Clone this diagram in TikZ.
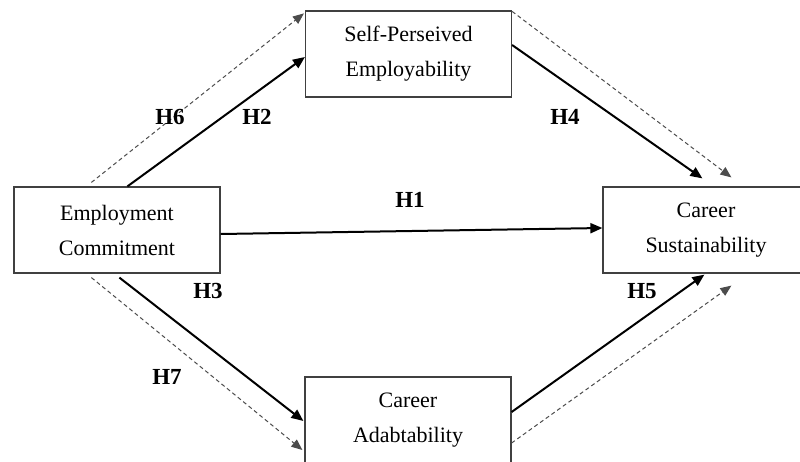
\documentclass[tikz,border=0pt]{standalone}
\usepackage{fontspec}
\setmainfont{Liberation Serif}
\usetikzlibrary{arrows.meta,calc}
\tikzset{
  box/.style={draw=black!75, line width=1.2pt, fill=white, inner sep=0pt,
    minimum width=206pt, minimum height=86pt, align=center,
    font=\fontsize{22}{35}\selectfont},
  solidarrow/.style={draw=black, line width=2pt, -{Triangle[length=12pt,width=10pt]}},
  dasharrow/.style={draw=black!70, line width=1pt, dash pattern=on 4pt off 3pt,
    -{Triangle[length=11pt,width=9pt]}},
  hlabel/.style={font=\fontsize{23}{23}\bfseries\selectfont, inner sep=0pt}
}
\begin{document}
\begin{tikzpicture}[x=1pt,y=-1pt]
\useasboundingbox (0,0) rectangle (800,461);
\clip (0,0) rectangle (800,461);
\fill[white] (0,0) rectangle (800,461);
\node[box] (spe) at (408.5,54) {Self-Perseived\\Employability};
\node[box] (ec) at (117,230) {Employment\\Commitment};
\node[box] (cs) at (706,230) {Career\\Sustainability};
\node[box] (ca) at (408,420) {Career\\Adabtability};
% H6 dashed
\draw[dasharrow] ($(ec.north west)+(78,-4)$) -- ($(spe.north west)+(-1,3)$);
% H2 solid
\draw[solidarrow] ($(ec.north west)+(114,0)$) -- ($(spe.west)+(0,3)$);
% top right dashed
\draw[dasharrow] ($(spe.north east)+(0,1)$) -- ($(cs.north west)+(129,-9)$);
% H4 solid
\draw[solidarrow] ($(spe.east)+(0,-9)$) -- ($(cs.north west)+(100,-8)$);
% H1
\draw[solidarrow] ($(ec.east)+(0,4)$) -- ($(cs.west)+(0,-2)$);
% H3 solid
\draw[solidarrow] ($(ec.south west)+(106,4)$) -- ($(ca.west)+(-1,1)$);
% H7 dashed
\draw[dasharrow] ($(ec.south west)+(78,4)$) -- ($(ca.west)+(-2,30)$);
% H5 solid
\draw[solidarrow] ($(ca.east)+(0,-8)$) -- ($(cs.south west)+(102,1)$);
% bottom right dashed
\draw[dasharrow] ($(ca.east)+(0,23)$) -- ($(cs.south west)+(129,12)$);
% labels
\node[hlabel] (h6) at (170,117) {H6};
\node[hlabel] (h2) at (257,117) {H2};
\node[hlabel] (h4) at (565,117) {H4};
\node[hlabel] (h1) at (410,200) {H1};
\node[hlabel] (h3) at (208,291) {H3};
\node[hlabel] (h7) at (167,377) {H7};
\node[hlabel] (h5) at (642,291) {H5};
\end{tikzpicture}
\end{document}
